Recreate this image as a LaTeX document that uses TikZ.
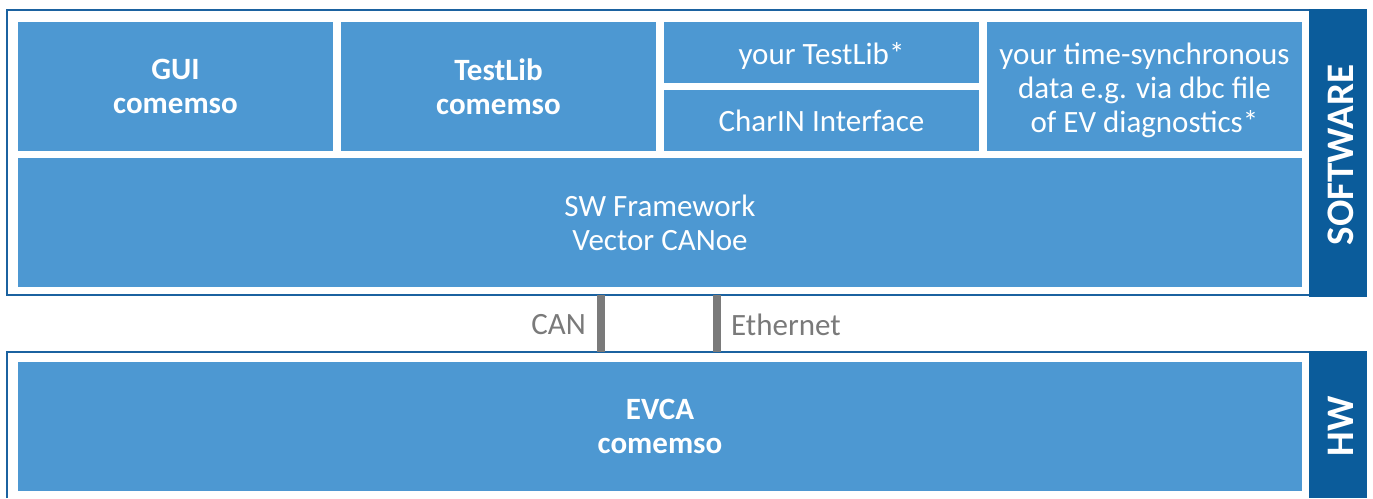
\documentclass[tikz,border=0pt]{standalone}
\usepackage{fontspec}
\setmainfont{Carlito}
\definecolor{boxblue}{HTML}{4D98D2}
\definecolor{darkblue}{HTML}{0B5C9B}
\definecolor{frameblue}{HTML}{1B62A0}
\definecolor{busgray}{HTML}{7A7A7A}
\tikzset{
  blk/.style={fill=boxblue, text=white, inner sep=0pt, align=center,
    font=\fontsize{31}{34}\selectfont},
  blkb/.style={blk, font=\fontsize{31}{34.5}\selectfont\bfseries},
  blktext/.style={text=white, inner sep=0pt, align=center,
    font=\fontsize{31}{34}\selectfont},
  sidebar/.style={fill=darkblue, inner sep=0pt},
  sidelabel/.style={rotate=90, text=white, inner sep=0pt,
    font=\fontsize{39}{40}\selectfont\bfseries},
  frame/.style={draw=frameblue, line width=2.5pt},
  bus/.style={draw=busgray, line width=8pt},
  buslabel/.style={text=busgray, inner sep=0pt, font=\fontsize{31}{34}\selectfont}
}
\begin{document}
\begin{tikzpicture}[x=1pt,y=-1pt]
\useasboundingbox (0,0) rectangle (1373,498);
% frames
\draw[frame] (7,10) rectangle (1310,295);
\draw[frame] (7,498) -- (7,352) -- (1310,352);
% sidebars
\node[sidebar, minimum width=58pt, minimum height=288pt] (swbar) at (1338,153) {};
\node[sidelabel] (swlbl) at (1341,155) {SOFTWARE};
\node[sidebar, minimum width=58pt, minimum height=147pt] (hwbar) at (1338,424.5) {};
\node[sidelabel] (hwlbl) at (1341,426.5) {HW};
% software blocks
\node[blkb, minimum width=315pt, minimum height=129pt] (gui) at (175.5,86.5) {GUI\\comemso};
\node[blkb, minimum width=315pt, minimum height=129pt] (tlib) at (498.5,86.5) {TestLib\\comemso};
\node[blk, minimum width=315pt, minimum height=61pt] (ytlib) at (821.5,52.5) {};
\node[blktext] (ytlibtxt) at ([yshift=-3pt]ytlib.center) {your TestLib*};
\node[blk, minimum width=315pt, minimum height=61pt] (charin) at (821.5,120.5) {CharIN Interface};
\node[blk, minimum width=315pt, minimum height=129pt] (dbc) at (1144.5,86.5) {};
\node[blktext] (dbctxt) at ([yshift=-4pt]dbc.center) {your time-synchronous\\data e.g. via dbc file\\of EV diagnostics*};
\node[blk, minimum width=1284pt, minimum height=129pt] (swfw) at (660,222.5) {SW Framework\\Vector CANoe};
% hardware block
\node[blkb, minimum width=1284pt, minimum height=129pt] (evca) at (660,426.5) {EVCA\\comemso};
% buses
\draw[bus] (601,295) -- (601,352);
\draw[bus] (716.5,295) -- (716.5,352);
\node[buslabel, anchor=east] (can) at (586,325) {CAN};
\node[buslabel, anchor=west] (eth) at (731,325) {Ethernet};
\end{tikzpicture}
\end{document}
